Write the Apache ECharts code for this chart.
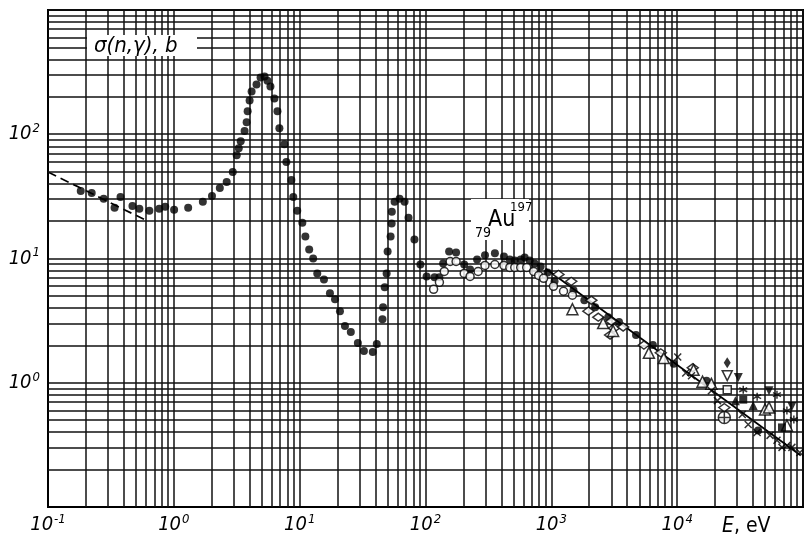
<!DOCTYPE html>
<html><head><meta charset="utf-8">
<script src="https://cdn.jsdelivr.net/npm/echarts@6/dist/echarts.min.js"></script>
<style>html,body{margin:0;padding:0;background:#fff}#c{width:806px;height:537px}</style>
</head><body><div id="c"></div>
<script>
// ---- axis tick values ----
const xTickLabels = [0.1, 1, 10, 100, 1000, 10000];
const yTickLabels = [1, 10, 100];
const xDecades = [0.1, 1, 10, 100, 1000, 10000];
const yDecades = [0.1, 1, 10, 100];
const minorMultipliers = [2, 3, 4, 5, 6, 7, 8, 9];

// ---- data: [E (eV), sigma (b)] ----
const filledCircles = [
  [0.182,35.0],[0.2225,33.7],[0.277,30.2],[0.338,25.6],[0.377,31.3],[0.469,26.5],[0.532,25.1],[0.639,24.2],
  [0.766,25.1],[0.854,26.1],[1.005,24.7],[1.30,25.6],[1.70,28.6],[2.01,31.9],[2.32,37.0],[2.63,41.3],
  [2.94,49.7],[3.16,67.9],[3.28,77.3],[3.40,87.9],[3.65,106],[3.79,125],[3.86,153],[4.00,187],[4.15,221],
  [4.54,251],[4.89,286],[5.26,291],[5.55,270],[5.86,242],[6.30,194],[6.66,153],[6.90,112],[7.56,83.2],
  [7.84,59.7],[8.59,42.9],[8.90,31.3],[9.57,24.2],[10.5,19.4],[11.1,15.0],[11.9,11.8],[12.8,10.0],
  [13.8,7.59],[15.6,6.79],[17.4,5.25],[19.1,4.70],[20.9,3.77],[22.9,2.86],[25.5,2.56],[29.0,2.09],
  [32.4,1.80],[38.1,1.77],[41.0,2.05],[45.5,3.25],[46.0,4.06],[47.4,5.86],[49.1,7.59],[50.0,11.4],
  [52.8,15.0],[53.8,19.1],[54.0,23.8],[56.8,28.6],[62.2,30.2],[68.2,28.6],[73.3,21.3],[81.7,14.2],
  [91.1,8.95],[102,7.18],[118,7.05],[129,7.05],[138,9.12],[154,11.4],[175,11.2],[203,8.95],[226,8.17],
  [257,9.82],[297,10.6],[356,11.0],[420,10.4],[468,9.82],[512,9.64],[571,9.82],[614,10.2],[673,9.64],
  [737,9.12],[822,8.63],[934,7.73],[1060,6.55],[1500,5.55],[1830,4.61],[2230,4.06],[2830,3.37],
  [3450,3.08],[4710,2.42],[6410,2.01],[9380,1.42],[17100,1.04],[44000,0.413]
];
const openCircles = [
  [116,5.65],[129,6.43],[141,7.87],[157,9.46],[175,9.46],[203,7.59],[226,7.18],[262,7.87],[297,8.79],
  [356,8.95],[420,8.79],[468,8.47],[512,8.47],[571,8.47],[637,8.47],[724,7.87],[793,7.31],[868,6.92],
  [1040,5.97],[1250,5.45],[1470,5.06]
];
const openDiamonds = [
  [1140,7.45],[1440,6.55],[1970,3.77],[2080,4.61],[2360,3.37],[2990,3.13],[2930,2.42],[3150,2.75],
  [3720,2.81],[5440,2.01],[7410,1.74],[13300,1.32],[23700,0.631]
];
const openTriangles = [
  [1470,3.91],[2580,3.02],[3100,2.61],[5960,1.74],[7830,1.58],[13500,1.27],[15900,1.02],[18700,0.98],
  [49900,0.608],[53700,0.631],[74500,0.453]
];
const crosses = [
  [10100,1.61],[11700,1.20],[13000,1.14],[18700,0.863],[20900,0.718],[32900,0.555],[36700,0.461],
  [43200,0.398],[54700,0.377],[62100,0.344],[68100,0.302],[74500,0.313],[81600,0.302],[94400,0.275]
];
const filledDiamonds = [[25000,1.45]];
const openInvTriangles = [[25000,1.14]];
const filledInvTriangles = [[30600,1.10],[53700,0.863],[81600,0.643]];
const asterisks = [[33500,0.879],[43200,0.773],[62100,0.802],[74500,0.597],[84600,0.506]];
const openSquares = [[25000,0.879]];
const filledSquares = [[33500,0.731],[68100,0.437]];
const filledTriangles = [[29000,0.718],[40200,0.655]];
const circlePlus = [[23700,0.525]];
const dashedLine = [[0.1,49.7],[0.60,20.3]];
const solidLine = [[900,8.3],[96000,0.26]];

// ---- styling ----
const FONT = "'Liberation Sans Narrow','DejaVu Sans Condensed','Liberation Sans',sans-serif";
const rich = {
  b: {fontSize: 20, fontStyle: 'italic', fontFamily: FONT, color: '#000', lineHeight: 24},
  s: {fontSize: 13, fontStyle: 'italic', fontFamily: FONT, color: '#000', verticalAlign: 'bottom', padding: [0,0,11,1], lineHeight: 24}
};
function expLabel(v, allowed) {
  const e = Math.round(Math.log10(v));
  if (!allowed.some(a => Math.abs(Math.log10(a) - e) < 1e-6)) return '';
  return '{b|10}{s|' + (e < 0 ? '-' + (-e) : e) + '}';
}
const vMinor = [], hMinor = [];
xDecades.forEach(d => minorMultipliers.forEach(m => vMinor.push({xAxis: d * m})));
yDecades.forEach(d => minorMultipliers.forEach(m => hMinor.push({yAxis: d * m})));

const GRID_COLOR = '#111';
const GRID_W = 1.5;
function scatter(name, data, symbol, size, fill, extra) {
  return Object.assign({
    name, type: 'scatter', data, symbol, symbolSize: size, z: 5,
    itemStyle: {color: fill, borderColor: '#000', borderWidth: fill === '#000' ? 0 : 1.5}
  }, extra || {});
}
const crossPath = 'path://M0,0L10,10M10,0L0,10';
const asteriskPath = 'path://M5,0L5,10M0.7,2.5L9.3,7.5M0.7,7.5L9.3,2.5';
const circlePlusPath = 'path://M0,5A5,5,0,1,1,10,5A5,5,0,1,1,0,5ZM5,0L5,10M0,5L10,5';

const chart = echarts.init(document.getElementById('c'), null, {renderer: 'canvas'});
chart.setOption({
  animation: false,
  backgroundColor: '#fff',
  grid: {left: 48, right: -2, top: 10, bottom: 27, show: true, borderColor: '#000', borderWidth: 2, containLabel: false},
  xAxis: {
    type: 'log', logBase: 10, min: 0.1, max: 100000, splitNumber: 6,
    axisLine: {show: true, lineStyle: {color: '#000', width: 2}},
    axisTick: {show: false},
    splitLine: {show: true, lineStyle: {color: GRID_COLOR, width: GRID_W}},
    minorSplitLine: {show: false},
    axisLabel: {margin: 6, formatter: v => expLabel(v, xTickLabels), rich}
  },
  yAxis: {
    type: 'log', logBase: 10, min: 0.1, max: 1000, splitNumber: 4,
    axisLine: {show: true, lineStyle: {color: '#000', width: 2}},
    axisTick: {show: false},
    splitLine: {show: true, lineStyle: {color: GRID_COLOR, width: GRID_W}},
    axisLabel: {margin: 8, formatter: v => expLabel(v, yTickLabels), rich}
  },
  series: [
    {
      name: 'grid', type: 'line', data: [[1, 1]], symbolSize: 0, showSymbol: false, silent: true, z: 1,
      lineStyle: {opacity: 0},
      markLine: {
        silent: true, symbol: ['none', 'none'], label: {show: false}, animation: false,
        lineStyle: {color: GRID_COLOR, width: GRID_W, type: 'solid'},
        data: vMinor.concat(hMinor)
      }
    },
    {name: 'dashed', type: 'line', data: dashedLine, symbol: 'none', z: 4,
      lineStyle: {color: '#000', width: 1.7, type: [9, 5]}},
    {name: 'solid', type: 'line', data: solidLine, symbol: 'none', z: 4,
      lineStyle: {color: '#000', width: 1.7}},
    scatter('filledCircles', filledCircles, 'circle', 8, '#000'),
    scatter('openCircles', openCircles, 'circle', 8, '#fff'),
    scatter('openDiamonds', openDiamonds, 'diamond', [11, 8], '#fff'),
    scatter('openTriangles', openTriangles, 'triangle', 11, '#fff'),
    scatter('crosses', crosses, crossPath, 7, 'none'),
    scatter('filledDiamonds', filledDiamonds, 'diamond', [7, 11], '#000'),
    scatter('openInvTriangles', openInvTriangles, 'triangle', 10, '#fff', {symbolRotate: 180}),
    scatter('filledInvTriangles', filledInvTriangles, 'triangle', 9, '#000', {symbolRotate: 180}),
    scatter('asterisks', asterisks, asteriskPath, 8, 'none'),
    scatter('openSquares', openSquares, 'rect', 8, '#fff'),
    scatter('filledSquares', filledSquares, 'rect', 8, '#000'),
    scatter('filledTriangles', filledTriangles, 'triangle', 9, '#000'),
    scatter('circlePlus', circlePlus, circlePlusPath, 12, '#fff')
  ],
  graphic: [
    {type: 'rect', shape: {x: 87, y: 35, width: 110, height: 21}, style: {fill: '#fff'}, z: 10},
    {type: 'text', x: 94, y: 46, z: 11, style: {
      text: 'σ(n,γ), b', font: "italic 22px " + FONT, fill: '#000', textVerticalAlign: 'middle'}},
    {type: 'rect', shape: {x: 471, y: 199, width: 58, height: 41}, style: {fill: '#fff'}, z: 10},
    {type: 'text', x: 475, y: 226, z: 11, style: {
      text: '79', font: "14px " + FONT, fill: '#000', textVerticalAlign: 'top'}},
    {type: 'text', x: 488, y: 209, z: 11, style: {
      text: 'Au', font: "23px " + FONT, fill: '#000', textVerticalAlign: 'top'}},
    {type: 'text', x: 510, y: 201, z: 11, style: {
      text: '197', font: "13px " + FONT, fill: '#000', textVerticalAlign: 'top'}},
    {type: 'text', x: 722, y: 527, z: 11, style: {
      text: '{e|E}{r|, eV}', textVerticalAlign: 'middle',
      rich: {e: {fontSize: 21, fontStyle: 'italic', fontFamily: FONT, fill: '#000'},
             r: {fontSize: 21, fontFamily: FONT, fill: '#000'}}}}
  ]
});
</script>
</body></html>
